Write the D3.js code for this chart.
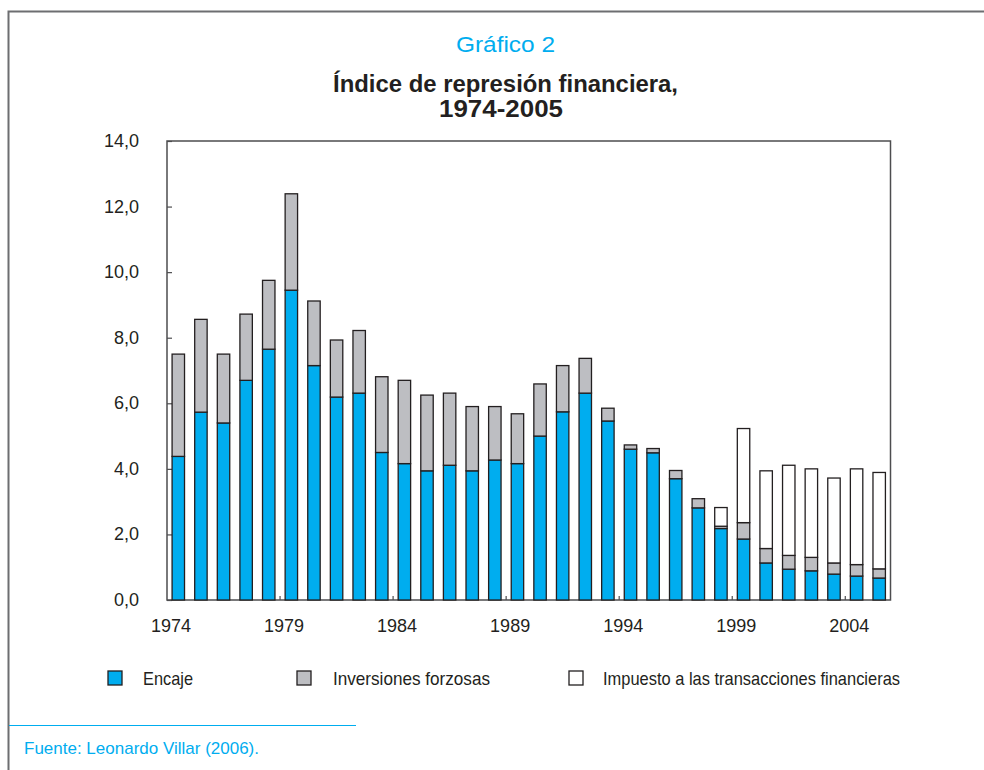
<!DOCTYPE html>
<html>
<head>
<meta charset="utf-8">
<script src="https://cdn.jsdelivr.net/npm/d3@7"></script>
<style>
  body { margin: 0; background: #fff; }
  svg text { font-family: "Liberation Sans Narrow", "Arial Narrow", "Liberation Sans", sans-serif; }
</style>
</head>
<body>
<div id="chart"></div>
<script>
const years = d3.range(1974, 2006);

const encaje = [4.38, 5.73, 5.40, 6.70, 7.65, 9.45, 7.15, 6.19, 6.31, 4.50, 4.16, 3.94, 4.11, 3.94, 4.27, 4.16,
  5.00, 5.74, 6.31, 5.46, 4.60, 4.49, 3.70, 2.81, 2.18, 1.86, 1.13, 0.94, 0.89, 0.79, 0.73, 0.67];

const inversiones = [3.12, 2.83, 2.10, 2.02, 2.10, 2.94, 1.97, 1.74, 1.91, 2.31, 2.54, 2.31, 2.20, 1.96, 1.63, 1.52,
  1.59, 1.41, 1.06, 0.39, 0.13, 0.13, 0.25, 0.28, 0.07, 0.50, 0.44, 0.42, 0.41, 0.34, 0.35, 0.28];

const impuesto = [0, 0, 0, 0, 0, 0, 0, 0, 0, 0, 0, 0, 0, 0, 0, 0,
  0, 0, 0, 0, 0, 0, 0, 0, 0.57, 2.87, 2.37, 2.75, 2.70, 2.59, 2.92, 2.94];

const seriesNames = ["Encaje", "Inversiones forzosas", "Impuesto a las transacciones financieras"];
const yTicks = [0, 2, 4, 6, 8, 10, 12, 14];
const xTickYears = [1974, 1979, 1984, 1989, 1994, 1999, 2004];

const W = 984, H = 770;
const blue = "#00adef";
const colors = [blue, "#bdbec2", "#ffffff"];
const ink = "#231f20";

const svg = d3.select("#chart").append("svg").attr("width", W).attr("height", H);

// outer frame (top + left)
svg.append("path")
  .attr("d", `M8.5,${H} V11.5 H${W}`)
  .attr("fill", "none").attr("stroke", "#6d6e71").attr("stroke-width", 2);

// titles (squeezed to mimic the condensed face of the original)
const addText = (x0, y0, len, size, weight, fill, str) =>
  svg.append("text").attr("x", x0).attr("y", y0)
    .attr("textLength", len).attr("lengthAdjust", "spacingAndGlyphs")
    .style("font-size", size + "px").style("font-weight", weight)
    .attr("fill", fill).text(str);

addText(456, 52, 99, 22, "normal", blue, "Gráfico 2");
addText(333, 92, 345, 24, "bold", ink, "Índice de represión financiera,");
addText(439, 117, 124, 24, "bold", ink, "1974-2005");

const plot = { left: 167, right: 890.5, top: 141, bottom: 600 };

const x = d3.scaleBand().domain(years).range([plot.left, plot.right])
  .paddingInner(0.45).paddingOuter(0.225);
const y = d3.scaleLinear().domain([0, 14]).range([plot.bottom, plot.top]);

const data = years.map((yr, i) => ({ year: yr, enc: encaje[i], inv: inversiones[i], imp: impuesto[i] }));
const stack = d3.stack().keys(["enc", "inv", "imp"])(data);

// plot frame
svg.append("rect")
  .attr("x", plot.left).attr("y", plot.top)
  .attr("width", plot.right - plot.left).attr("height", plot.bottom - plot.top)
  .attr("fill", "none").attr("stroke", "#4d4d4f").attr("stroke-width", 1.5);

// y axis (inside ticks)
const yAxis = svg.append("g").attr("transform", `translate(${plot.left},0)`)
  .call(d3.axisRight(y).tickValues(yTicks).tickSize(5).tickFormat(() => ""));
yAxis.select(".domain").remove();
yAxis.selectAll("line").attr("stroke", "#4d4d4f").attr("stroke-width", 1.2);

svg.append("g").selectAll("text").data(yTicks).join("text")
  .attr("x", 139).attr("y", (d) => y(d) + 6)
  .attr("text-anchor", "end")
  .style("font-size", "18px").attr("fill", ink)
  .text((d) => d3.format(".1f")(d).replace(".", ","));

// x ticks at band boundaries
const step = x.step();
const tickX = (yr) => x(yr) - x.paddingOuter() * step;
svg.append("g").selectAll("line").data(xTickYears.slice(1)).join("line")
  .attr("x1", tickX).attr("x2", tickX)
  .attr("y1", plot.bottom).attr("y2", plot.bottom - 4)
  .attr("stroke", "#4d4d4f").attr("stroke-width", 1.2);

svg.append("g").selectAll("text").data(xTickYears).join("text")
  .attr("x", (d) => tickX(d) + 4).attr("y", 632)
  .attr("text-anchor", "middle")
  .style("font-size", "18px").attr("fill", ink)
  .text((d) => d);

// bars
svg.append("g").selectAll("g").data(stack).join("g")
  .attr("fill", (d, i) => colors[i])
  .selectAll("rect").data((d) => d.filter((p) => p[1] - p[0] > 0)).join("rect")
  .attr("x", (d) => x(d.data.year))
  .attr("width", x.bandwidth())
  .attr("y", (d) => y(d[1]))
  .attr("height", (d) => y(d[0]) - y(d[1]))
  .attr("stroke", ink).attr("stroke-width", 1.3);

// legend
const legendX = [108, 297, 569];
const legendTextX = [35, 36, 34];
const legendLen = [50, 157, 297];
const legend = svg.append("g").selectAll("g").data(seriesNames).join("g")
  .attr("transform", (d, i) => `translate(${legendX[i]},671)`);
legend.append("rect").attr("width", 14).attr("height", 14)
  .attr("fill", (d, i) => colors[i]).attr("stroke", ink).attr("stroke-width", 1.3);
legend.append("text").attr("x", (d, i) => legendTextX[i]).attr("y", 14)
  .attr("textLength", (d, i) => legendLen[i]).attr("lengthAdjust", "spacingAndGlyphs")
  .style("font-size", "19px").attr("fill", ink).text((d) => d);

// source
svg.append("line").attr("x1", 9).attr("x2", 356).attr("y1", 725.5).attr("y2", 725.5)
  .attr("stroke", blue).attr("stroke-width", 1.2);
addText(24, 754, 235, 17, "normal", blue, "Fuente: Leonardo Villar (2006).");
</script>
</body>
</html>
